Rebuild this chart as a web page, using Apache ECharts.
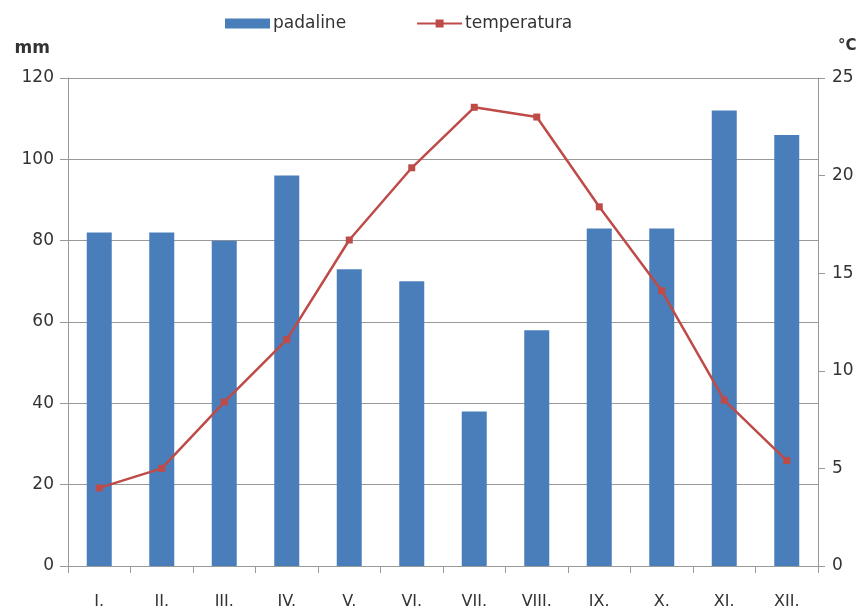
<!DOCTYPE html>
<html>
<head>
    <meta charset="UTF-8">
    <title>padaline / temperatura</title>
    <script src="https://cdn.jsdelivr.net/npm/echarts@6/dist/echarts.min.js"></script>
    <style>
        html, body { margin: 0; padding: 0; background: #fff; }
        #main { width: 864px; height: 613px; }
    </style>
</head>
<body>
<div id="main"></div>
<script type="text/javascript">
    var months = ['I.', 'II.', 'III.', 'IV.', 'V.', 'VI.', 'VII.', 'VIII.', 'IX.', 'X.', 'XI.', 'XII.'];
    var padaline = [82, 82, 80, 96, 73, 70, 38, 58, 83, 83, 112, 106];
    var temperatura = [4.0, 5.0, 8.4, 11.6, 16.7, 20.4, 23.5, 23.0, 18.4, 14.1, 8.5, 5.4];

    var font = 'DejaVu Sans';
    var myChart = echarts.init(document.getElementById('main'));

    var option = {
        animation: false,
        textStyle: { fontFamily: font },
        legend: {
            top: 10,
            left: 220,
            itemGap: 70,
            itemWidth: 45,
            itemHeight: 10,
            textStyle: { fontSize: 17, color: '#333', fontFamily: font, padding: [0, 0, 0, -2] },
            data: [
                { name: 'padaline', icon: 'rect' },
                { name: 'temperatura' }
            ]
        },
        grid: { left: 68, right: 46, top: 78, bottom: 47 },
        xAxis: {
            type: 'category',
            data: months,
            axisLine: { lineStyle: { color: '#999' } },
            axisTick: { show: true, length: 7, lineStyle: { color: '#999' } },
            axisLabel: { color: '#333', fontSize: 16, margin: 28 }
        },
        yAxis: [
            {
                type: 'value',
                name: 'mm',
                nameLocation: 'end',
                nameGap: 21,
                nameTextStyle: { color: '#333', fontSize: 17, fontWeight: 'bold', align: 'right', padding: [0, 18, 0, 0] },
                min: 0, max: 120, interval: 20,
                axisLine: { show: true, lineStyle: { color: '#999' } },
                axisTick: { show: true, length: 8, lineStyle: { color: '#999' } },
                axisLabel: { color: '#333', fontSize: 17, margin: 14 },
                splitLine: { lineStyle: { color: '#999', width: 1 } }
            },
            {
                type: 'value',
                name: '°C',
                nameLocation: 'end',
                nameGap: 24,
                nameTextStyle: { color: '#333', fontSize: 15, fontWeight: 'bold', align: 'left', padding: [0, 0, 0, 20] },
                min: 0, max: 25, interval: 5,
                axisLine: { show: true, lineStyle: { color: '#999' } },
                axisTick: { show: true, length: 7, lineStyle: { color: '#999' } },
                axisLabel: { color: '#333', fontSize: 17, margin: 14 },
                splitLine: { show: false }
            }
        ],
        series: [
            {
                name: 'padaline',
                type: 'bar',
                yAxisIndex: 0,
                barWidth: '40%',
                itemStyle: { color: '#4a7ebb' },
                data: padaline
            },
            {
                name: 'temperatura',
                type: 'line',
                yAxisIndex: 1,
                symbol: 'rect',
                symbolSize: 7,
                lineStyle: { color: '#be4b48', width: 2.5 },
                itemStyle: { color: '#be4b48' },
                data: temperatura
            }
        ]
    };

    myChart.setOption(option);
</script>
</body>
</html>
